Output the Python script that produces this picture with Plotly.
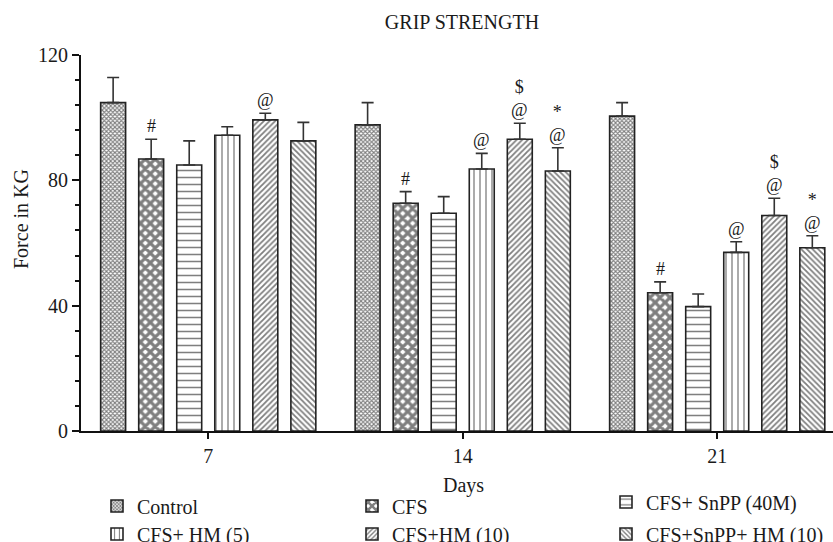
import plotly.graph_objects as go

days = ["7", "14", "21"]
groups = ["Control", "CFS", "CFS+ SnPP (40M)", "CFS+ HM (5)", "CFS+HM (10)", "CFS+SnPP+ HM (10)"]

control = [104.8, 97.7, 100.5]
cfs = [86.8, 72.7, 44.1]
snpp = [84.9, 69.5, 39.7]
hm5 = [94.4, 83.6, 57.0]
hm10 = [99.3, 93.1, 68.8]
snpp_hm = [92.6, 83.0, 58.5]

control_err = [8.0, 7.1, 4.3]
cfs_err = [6.3, 3.7, 3.5]
snpp_err = [7.7, 5.3, 4.0]
hm5_err = [2.7, 5.0, 3.4]
hm10_err = [2.1, 5.1, 5.5]
snpp_hm_err = [5.9, 7.4, 3.8]

control_sig = ["", "", ""]
cfs_sig = ["#", "#", "#"]
snpp_sig = ["", "", ""]
hm5_sig = ["", "@", "@"]
hm10_sig = ["@", "$<br>@", "$<br>@"]
snpp_hm_sig = ["", "*<br>@", "*<br>@"]

values = [control, cfs, snpp, hm5, hm10, snpp_hm]
errors = [control_err, cfs_err, snpp_err, hm5_err, hm10_err, snpp_hm_err]
sigs = [control_sig, cfs_sig, snpp_sig, hm5_sig, hm10_sig, snpp_hm_sig]

FONT = "Liberation Serif, Times New Roman, serif"
TXT = "#1a1a1a"
patterns = [
    dict(shape="x", size=3, solidity=0.6),
    dict(shape="x", size=7, solidity=0.7),
    dict(shape="-", size=7, solidity=0.22),
    dict(shape="|", size=6, solidity=0.22),
    dict(shape="/", size=4, solidity=0.45),
    dict(shape="\\", size=4, solidity=0.45),
]
legend_pos = [(97, 506), (352, 506), (606, 502), (97, 534), (352, 534), (606, 534)]

BARGAP = 0.103
fig = go.Figure()
for i, name in enumerate(groups):
    lg = "legend" if i == 0 else f"legend{i+1}"
    fig.add_trace(go.Bar(
        x=days, y=values[i], name=name, legend=lg, showlegend=True,
        marker=dict(color="white", line=dict(color="#222", width=1.6),
                    pattern=dict(fgcolor="#000", bgcolor="white", **patterns[i])),
        error_y=dict(type="data", array=errors[i], arrayminus=[0] * 3, symmetric=False,
                     color="#333", thickness=1.6, width=6),
    ))

annotations = []
for i in range(6):
    for j in range(3):
        if sigs[i][j]:
            annotations.append(dict(
                x=j + (i - 2.5) * (1 - BARGAP) / 6, y=values[i][j] + errors[i][j],
                xref="x", yref="y", text=sigs[i][j], showarrow=False,
                xanchor="center", yanchor="bottom", yshift=1,
                font=dict(family=FONT, size=18, color=TXT)))

annotations.append(dict(text="Force in KG", textangle=-90, xref="paper", yref="paper",
                        x=(21 - 81) / 752, y=(431 - 219) / 376, showarrow=False,
                        xanchor="center", yanchor="middle",
                        font=dict(family=FONT, size=20, color=TXT)))
annotations.append(dict(text="Days", xref="paper", yref="paper",
                        x=(463 - 81) / 752, y=(431 - 485) / 376, showarrow=False,
                        xanchor="center", yanchor="middle",
                        font=dict(family=FONT, size=20, color=TXT)))

legends = {}
for i, (lx, ly) in enumerate(legend_pos):
    key = "legend" if i == 0 else f"legend{i+1}"
    legends[key] = dict(x=lx / 833, y=1 - ly / 542, xref="container", yref="container",
                        xanchor="left", yanchor="middle", bgcolor="rgba(0,0,0,0)",
                        visible=True, font=dict(family=FONT, size=20, color=TXT))

fig.update_layout(
    width=833, height=542, showlegend=True,
    margin=dict(l=81, r=0, t=55, b=111, autoexpand=False),
    paper_bgcolor="white", plot_bgcolor="white",
    barmode="group", bargap=BARGAP, bargroupgap=0.344,
    title=dict(text="GRIP STRENGTH", x=462 / 833, y=1 - 22 / 542, xref="container",
               yref="container", xanchor="center", yanchor="middle",
               font=dict(family=FONT, size=20, color=TXT)),
    font=dict(family=FONT, size=20, color=TXT),
    annotations=annotations,
    **legends,
)
fig.update_xaxes(type="category", range=[-0.5, 2.455], showline=True, linecolor="#111",
                 linewidth=2.2, ticks="outside", ticklen=6, tickwidth=2, tickcolor="#111",
                 showgrid=False, zeroline=False,
                 tickfont=dict(family=FONT, size=20, color=TXT))
fig.update_yaxes(range=[0, 120], tickvals=[0, 40, 80, 120], showline=True, linecolor="#111",
                 linewidth=2.2, ticks="outside", ticklen=7, tickwidth=1.6, tickcolor="#111",
                 minor=dict(dtick=8, ticks="outside", ticklen=4, tickwidth=1.6, tickcolor="#111"),
                 showgrid=False, zeroline=False,
                 tickfont=dict(family=FONT, size=20, color=TXT))

fig.write_html("out.html")
